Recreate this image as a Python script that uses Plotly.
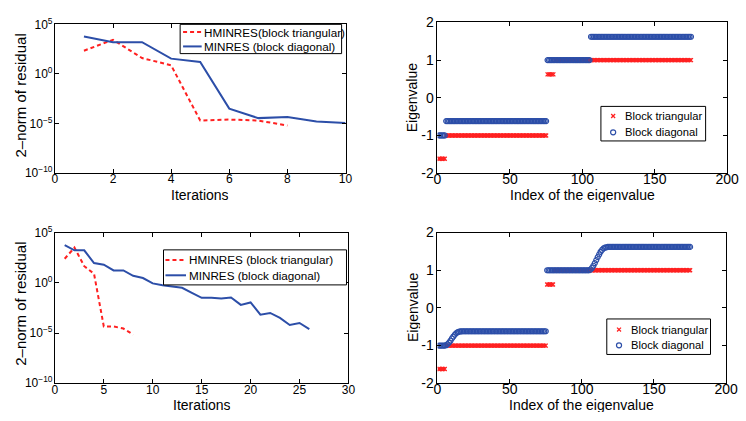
import plotly.graph_objects as go

# ---- convergence histories (2-norm of residual per iteration) ----
iters_h_a = [1, 2, 3, 4, 5, 6, 7, 8]
res_h_a = [2.2e2, 2.8e3, 4.0e1, 7.4e0, 2.0e-5, 2.5e-5, 2.0e-5, 6.3e-6]
iters_m_a = [1, 2, 3, 4, 5, 6, 7, 8, 9, 10]
res_m_a = [6.0e3, 1.6e3, 1.6e3, 3.5e1, 1.6e1, 3.2e-4, 3.5e-5, 4.5e-5, 1.6e-5, 1.1e-5]

iters_h_b = [1, 2, 3, 4, 5, 6, 7, 8]
res_h_b = [2.5e2, 3.2e3, 4.5e1, 8.0e0, 4.5e-5, 4.5e-5, 2.8e-5, 7.0e-6]
iters_m_b = list(range(1, 27))
res_m_b = [5.6e3, 1.7e3, 1.7e3, 9.3e1, 6.3e1, 1.7e1, 1.7e1, 5.0e0, 3.0e0, 8.7e-1,
           5.6e-1, 4.5e-1, 3.2e-1, 1.0e-1, 3.2e-2, 3.2e-2, 2.8e-2, 3.5e-2, 6.3e-3, 1.1e-2,
           6.8e-4, 1.0e-3, 3.2e-4, 6.3e-5, 1.0e-4, 2.5e-5]

# ---- eigenvalue spectra (sorted), given as runs of (level, count) ----
tri_levels = [-1.62, -1.0, 0.62, 1.0]
tri_counts = [5, 70, 5, 95]
diag_levels_a = [-1.0, -0.62, 1.0, 1.62]
diag_counts_a = [5, 70, 30, 70]

# second spectrum of the block-diagonal preconditioner, with two smooth ramps
diag_b_start = [-1.0] * 5
diag_b_ramp1 = [-0.99, -0.96, -0.92, -0.87, -0.81, -0.76, -0.71, -0.67, -0.645, -0.63, -0.625]
diag_b_mid1 = [-0.62] * 59
diag_b_mid2 = [1.0] * 30
diag_b_ramp2 = [1.02, 1.06, 1.12, 1.19, 1.27, 1.35, 1.42, 1.49, 1.54, 1.58, 1.60, 1.61]
diag_b_end = [1.62] * 58

# tick labels
log_vals = [1e-10, 1e-5, 1, 1e5]
log_text = ["10<sup>−10</sup>", "10<sup>−5</sup>", "10<sup>0</sup>", "10<sup>5</sup>"]
eig_ticks = [-2, -1, 0, 1, 2]
eig_text = ["-2", "-1", "0", "1", "2"]


def expand(levels, counts):
    vals = []
    for v, c in zip(levels, counts):
        vals += [v] * c
    return vals


eig_tri = expand(tri_levels, tri_counts)
eig_diag_a = expand(diag_levels_a, diag_counts_a)
eig_diag_b = diag_b_start + diag_b_ramp1 + diag_b_mid1 + diag_b_mid2 + diag_b_ramp2 + diag_b_end
idx_tri = list(range(1, len(eig_tri) + 1))
idx_a = list(range(1, len(eig_diag_a) + 1))
idx_b = list(range(1, len(eig_diag_b) + 1))

RED = "#ff2020"
BLUE = "#2c4ea8"
FONT = "Liberation Sans, Arial, Helvetica, sans-serif"
W, H = 746, 421
DASH = "4px,3px"

fig = go.Figure()

# residual plots
fig.add_trace(go.Scatter(x=iters_h_a, y=res_h_a, mode="lines", name="HMINRES(block triangular)",
                         line=dict(color=RED, width=2, dash=DASH), xaxis="x", yaxis="y"))
fig.add_trace(go.Scatter(x=iters_m_a, y=res_m_a, mode="lines", name="MINRES (block diagonal)",
                         line=dict(color=BLUE, width=2), xaxis="x", yaxis="y"))
fig.add_trace(go.Scatter(x=iters_h_b, y=res_h_b, mode="lines", name="HMINRES (block triangular)",
                         line=dict(color=RED, width=2, dash=DASH), xaxis="x3", yaxis="y3"))
fig.add_trace(go.Scatter(x=iters_m_b, y=res_m_b, mode="lines", name="MINRES (block diagonal)",
                         line=dict(color=BLUE, width=2), xaxis="x3", yaxis="y3"))

# eigenvalue plots
for xa, ya, idx_d, eig_d in [("x2", "y2", idx_a, eig_diag_a), ("x4", "y4", idx_b, eig_diag_b)]:
    fig.add_trace(go.Scatter(x=idx_tri, y=eig_tri, mode="markers", name="Block triangular",
                             marker=dict(symbol="x-thin", size=4, color=RED, line=dict(color=RED, width=1.3)),
                             xaxis=xa, yaxis=ya))
    fig.add_trace(go.Scatter(x=idx_d, y=eig_d, mode="markers", name="Block diagonal",
                             marker=dict(symbol="circle-open", size=5, color=BLUE, line=dict(width=1.2)),
                             xaxis=xa, yaxis=ya))


def px_x(p):
    return p / W


def px_y(p):
    return 1 - p / H


def axis_style(tick_size):
    return dict(showline=True, linecolor="black", linewidth=1, mirror="ticks", ticks="inside",
                ticklen=4, tickcolor="black", showgrid=False, zeroline=False,
                tickfont=dict(family=FONT, size=tick_size, color="black"))


left = axis_style(12)
right = axis_style(14)

layout = dict(
    width=W, height=H, margin=dict(l=0, r=0, t=0, b=0),
    paper_bgcolor="white", plot_bgcolor="rgba(0,0,0,0)", showlegend=False,
    font=dict(family=FONT, color="black"),
    xaxis=dict(domain=[px_x(52), px_x(349)], range=[0, 10], tickvals=[0, 2, 4, 6, 8, 10],
               anchor="y", ticklabelstandoff=-5, **left),
    yaxis=dict(domain=[px_y(171), px_y(16)], type="log", range=[-10, 5], tickvals=log_vals,
               ticktext=log_text, anchor="x", ticklabelstandoff=-1, **left),
    xaxis2=dict(domain=[px_x(443), px_x(739)], range=[0, 200], tickvals=[0, 50, 100, 150, 200],
                anchor="y2", ticklabelstandoff=-7, **right),
    yaxis2=dict(domain=[px_y(171), px_y(14)], range=[-2, 2], tickvals=eig_ticks, ticktext=eig_text,
                anchor="x2", ticklabelstandoff=0, **right),
    xaxis3=dict(domain=[px_x(52), px_x(352)], range=[0, 30], tickvals=[0, 5, 10, 15, 20, 25, 30],
                anchor="y3", ticklabelstandoff=-5, **left),
    yaxis3=dict(domain=[px_y(390), px_y(233)], type="log", range=[-10, 5], tickvals=log_vals,
                ticktext=log_text, anchor="x3", ticklabelstandoff=-1, **left),
    xaxis4=dict(domain=[px_x(443), px_x(738)], range=[0, 200], tickvals=[0, 50, 100, 150, 200],
                anchor="y4", ticklabelstandoff=-7, **right),
    yaxis4=dict(domain=[px_y(390), px_y(233)], range=[-2, 2], tickvals=eig_ticks, ticktext=eig_text,
                anchor="x4", ticklabelstandoff=0, **right),
)
fig.update_layout(**layout)

shapes = []
annotations = []


# ---- axis titles, placed in pixel coordinates ----
def axis_title(x, y, text, angle=0, size=14):
    annotations.append(dict(xref="paper", yref="paper", x=px_x(x), y=px_y(y), text=text,
                            showarrow=False, xanchor="center", yanchor="middle", textangle=angle,
                            height=15, borderpad=0,
                            font=dict(family=FONT, size=size, color="black")))


axis_title(200.5, 193, "Iterations")
axis_title(202, 412, "Iterations")
axis_title(16.5, 90, "2–norm of residual", -90, 15)
axis_title(16.5, 307, "2–norm of residual", -90, 15)
axis_title(591, 193, "Index of the eigenvalue")
axis_title(590.5, 412, "Index of the eigenvalue")
axis_title(417.5, 92.5, "Eigenvalue", -90)
axis_title(417.5, 311, "Eigenvalue", -90)


# ---- legend boxes ----
def legend_box(x0, y0, x1, y1):
    shapes.append(dict(type="rect", xref="paper", yref="paper", x0=px_x(x0), x1=px_x(x1),
                       y0=px_y(y1), y1=px_y(y0), line=dict(color="black", width=1),
                       fillcolor="white", layer="above"))


def legend_text(x, y, text, size):
    annotations.append(dict(xref="paper", yref="paper", x=px_x(x), y=px_y(y), text=text,
                            showarrow=False, xanchor="left", yanchor="middle",
                            font=dict(family=FONT, size=size, color="black")))


def legend_line(x0, x1, y, color, dash=None):
    ln = dict(color=color, width=2)
    if dash:
        ln["dash"] = dash
    shapes.append(dict(type="line", xref="paper", yref="paper", x0=px_x(x0), x1=px_x(x1),
                       y0=px_y(y), y1=px_y(y), line=ln, layer="above"))


def legend_cross(cx, cy, color, r=2):
    for dy in (-r, r):
        shapes.append(dict(type="line", xref="paper", yref="paper", x0=px_x(cx - r), x1=px_x(cx + r),
                           y0=px_y(cy - dy), y1=px_y(cy + dy), line=dict(color=color, width=1.3),
                           layer="above"))


def legend_circle(cx, cy, color, r=2.6):
    shapes.append(dict(type="circle", xref="paper", yref="paper", x0=px_x(cx - r), x1=px_x(cx + r),
                       y0=px_y(cy + r), y1=px_y(cy - r), line=dict(color=color, width=1.2),
                       layer="above"))


# residual legends
legend_box(180, 16, 345, 46.5)
legend_line(183, 202, 24, RED, DASH)
legend_line(183, 202, 39, BLUE)
legend_text(202.5, 24, "HMINRES(block triangular)", 11.7)
legend_text(202.5, 39, "MINRES (block diagonal)", 11.7)

legend_box(163, 251, 350, 287.5)
legend_line(165, 186, 261.5, RED, DASH)
legend_line(165, 186, 277.5, BLUE)
legend_text(186.5, 261.5, "HMINRES (block triangular)", 11.7)
legend_text(186.5, 277.5, "MINRES (block diagonal)", 11.7)

# eigenvalue legends
legend_box(610, 101.5, 717, 137.5)
legend_cross(622.5, 111.5, RED)
legend_circle(622.5, 128.5, BLUE)
legend_text(633, 111.5, "Block triangular", 11.2)
legend_text(633, 128.5, "Block diagonal", 11.2)

legend_box(616, 323, 722, 360)
legend_cross(628.5, 334, RED)
legend_circle(628.5, 350.5, BLUE)
legend_text(638.5, 334, "Block triangular", 11.2)
legend_text(638.5, 350.5, "Block diagonal", 11.2)

fig.update_layout(shapes=shapes, annotations=annotations)
fig.write_html("out.html")
